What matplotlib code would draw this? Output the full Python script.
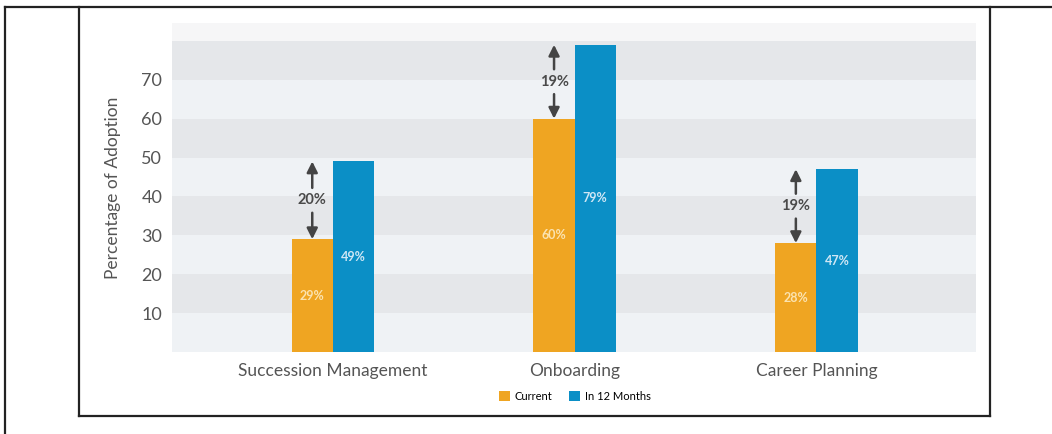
import numpy as np
import matplotlib.pyplot as plt
from matplotlib.lines import Line2D

plt.rcParams['font.family'] = ['Lato', 'DejaVu Sans']

categories = ["Succession Management", "Onboarding", "Career Planning"]
current = [29, 60, 28]
in_12_months = [49, 79, 47]
gap_labels = ["20%", "19%", "19%"]
yticks = [10, 20, 30, 40, 50, 60, 70]

ORANGE = "#efa522"
BLUE = "#0b8fc6"
TXT = "#555555"


def main():
    fig = plt.figure(figsize=(10.52, 4.34), dpi=100)
    ax = fig.add_axes([172 / 1052, 1 - 352 / 434, 804 / 1052, 329 / 434])

    x = np.arange(len(categories))
    w = 0.17
    ax.set_xlim(-0.665, 2.66)
    ax.set_ylim(0, 84.6)

    # alternating background bands
    for i, lo in enumerate(range(0, 80, 10)):
        ax.axhspan(lo, lo + 10, color="#eff2f5" if i % 2 == 0 else "#e5e7ea", zorder=0, lw=0)
    ax.axhspan(80, 84.6, color="#f6f6f7", zorder=0, lw=0)

    ax.bar(x - w / 2, current, w, color=ORANGE, zorder=2, label="Current")
    ax.bar(x + w / 2, in_12_months, w, color=BLUE, zorder=2, label="In 12 Months")

    for xi, c, f, g in zip(x, current, in_12_months, gap_labels):
        ax.text(xi - w / 2, c / 2, f"{c}%", ha="center", va="center", fontsize=9,
                fontweight="bold", color="#fbe3b0", zorder=3)
        ax.text(xi + w / 2, f / 2, f"{f}%", ha="center", va="center", fontsize=9,
                fontweight="bold", color="#cfe7f5", zorder=3)
        mid = (c + f) / 2
        ax.text(xi - w / 2, mid, g, ha="center", va="center", fontsize=10.5,
                fontweight="bold", color="#4a4a4a", zorder=3)
        for end in (f, c):
            ax.annotate("", xy=(xi - w / 2, end), xytext=(xi - w / 2, mid + (3.2 if end > mid else -3.2)),
                        arrowprops=dict(arrowstyle="-|>", color="#444444", lw=1.8,
                                        mutation_scale=16, shrinkA=0, shrinkB=0), zorder=3)

    ax.set_xticks(x)
    ax.set_xticklabels(categories, fontsize=12.5, color=TXT)
    ax.set_yticks(yticks)
    ax.set_yticklabels([str(v) for v in yticks], fontsize=13, color=TXT)
    ax.tick_params(length=0)
    ax.tick_params(axis="x", pad=8)
    ax.tick_params(axis="y", pad=7)
    for s in ax.spines.values():
        s.set_visible(False)
    ax.set_ylabel("Percentage of Adoption", fontsize=12.5, color=TXT, labelpad=15)

    fig.legend(loc="center", bbox_to_anchor=(575 / 1052, 1 - 396 / 434), ncol=2,
               frameon=False, fontsize=8, handlelength=1, handleheight=1,
               handletextpad=0.4, columnspacing=1.5)

    # page frame lines
    k = dict(color="#222222", lw=1.6, transform=fig.transFigure)
    fig.add_artist(Line2D([5 / 1052, 1], [1 - 7 / 434] * 2, **k))
    fig.add_artist(Line2D([5 / 1052] * 2, [0, 1 - 7 / 434], **k))
    fig.add_artist(Line2D([79 / 1052] * 2, [1 - 416 / 434, 1 - 7 / 434], **k))
    fig.add_artist(Line2D([990 / 1052] * 2, [1 - 416 / 434, 1 - 7 / 434], **k))
    fig.add_artist(Line2D([79 / 1052, 990 / 1052], [1 - 416 / 434] * 2, **k))

    fig.savefig("out.png", dpi=100)


if __name__ == "__main__":
    main()
